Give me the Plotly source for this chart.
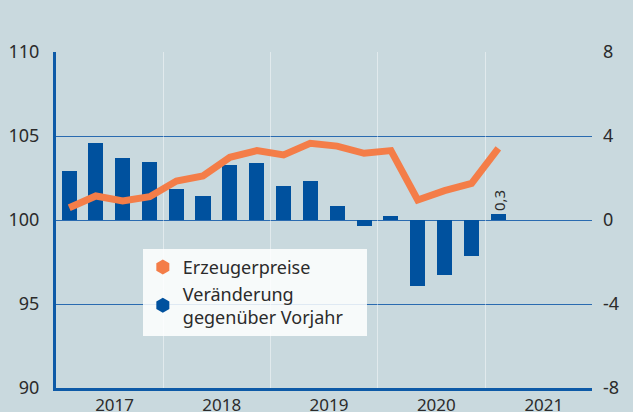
import pandas as pd
import plotly.graph_objects as go

# ---- data ----
quarters = ["2017Q1", "2017Q2", "2017Q3", "2017Q4",
            "2018Q1", "2018Q2", "2018Q3", "2018Q4",
            "2019Q1", "2019Q2", "2019Q3", "2019Q4",
            "2020Q1", "2020Q2", "2020Q3", "2020Q4",
            "2021Q1"]
erzeugerpreise = [100.73, 101.43, 101.13, 101.39,
                  102.32, 102.62, 103.73, 104.13,
                  103.87, 104.56, 104.40, 103.97,
                  104.13, 101.19, 101.75, 102.18,
                  104.27]
veraenderung = [2.33, 3.65, 2.94, 2.78,
                1.49, 1.16, 2.62, 2.73,
                1.62, 1.84, 0.65, -0.27,
                0.19, -3.16, -2.62, -1.71,
                0.3]
bar_labels = [""] * 16 + ["0,3"]
left_ticks = [90, 95, 100, 105, 110]
right_ticks = [-8, -4, 0, 4, 8]
right_ticktext = ["-8", "-4", "0", "4", "8"]
year_range = ["2017-01-01", "2021-12-31"]
legend_names = ["Erzeugerpreise", "Veränderung<br>gegenüber Vorjahr\u00a0\u00a0\u00a0\u00a0"]

# ---- styling ----
BG = "#C9D9DE"
ORANGE = "#F47D48"
BLUE = "#00519E"
GRID = "#2A6BB0"
AXIS = "#0D5AA7"
TXT = "#2B2B2B"
FONT = "Noto Sans"

periods = [pd.Period(q, freq="Q") for q in quarters]
x_mid = [p.start_time + (p.end_time - p.start_time) / 2 for p in periods]
bar_w = 0.56 * 91.3 * 86400000

fig = go.Figure()
# bars on primary axis (right side), line on overlaying axis (left side) -> line on top
fig.add_trace(go.Bar(
    x=x_mid, y=veraenderung, yaxis="y", width=bar_w,
    marker=dict(color=BLUE, line=dict(width=0)),
    text=bar_labels, textposition="outside", textangle=-90,
    constraintext="none",
    textfont=dict(size=15, color=TXT, family=FONT),
    cliponaxis=False, showlegend=False, hoverinfo="skip"))
fig.add_trace(go.Scatter(
    x=x_mid, y=erzeugerpreise, yaxis="y2", mode="lines",
    line=dict(color=ORANGE, width=7), showlegend=False))

# legend entries (hexagon icons)
fig.add_trace(go.Scatter(x=[None], y=[None], mode="markers", name=legend_names[0],
                         marker=dict(symbol="hexagon", size=15, color=ORANGE)))
fig.add_trace(go.Scatter(x=[None], y=[None], mode="markers", name=legend_names[1],
                         marker=dict(symbol="hexagon", size=15, color=BLUE)))

fig.update_layout(
    width=633, height=412,
    margin=dict(l=56, r=41, t=52, b=24),
    paper_bgcolor=BG, plot_bgcolor=BG,
    font=dict(family=FONT, color=TXT, size=18),
    bargap=0,
    xaxis=dict(
        type="date", range=year_range, dtick="M12", tick0="2017-01-01",
        tickformat="%Y", ticklabelmode="period", automargin=False,
        ticklabelshift=5,
        showgrid=True, gridcolor="rgba(255,255,255,0.45)", gridwidth=1,
        showline=True, linecolor=AXIS, linewidth=3,
        ticks="", tickfont=dict(size=17), zeroline=False),
    yaxis=dict(
        range=[-8, 8], tickvals=right_ticks, ticktext=right_ticktext,
        side="right", showgrid=False, zeroline=False, automargin=False,
        minor=dict(tickmode="array", tickvals=[-4, 0, 4], showgrid=True,
                   gridcolor=GRID, gridwidth=1, ticks=""),
        ticks="", ticklabelstandoff=10, showline=False, tickfont=dict(size=18)),
    yaxis2=dict(
        range=[90, 110], tickvals=left_ticks, showgrid=False, automargin=False,
        overlaying="y", side="left",
        showline=True, linecolor=AXIS, linewidth=3,
        ticks="", ticklabelstandoff=10, zeroline=False, tickfont=dict(size=18)),
    legend=dict(
        x=0.162, y=0.414, xanchor="left", yanchor="top",
        bgcolor="rgba(255,255,255,0.85)", borderwidth=0,
        font=dict(size=18, color=TXT), tracegroupgap=0),
)

fig.write_html("out.html",
               config={"displayModeBar": False},
               post_script="document.body.style.margin='0';"
                           "document.body.style.background='" + BG + "';")
